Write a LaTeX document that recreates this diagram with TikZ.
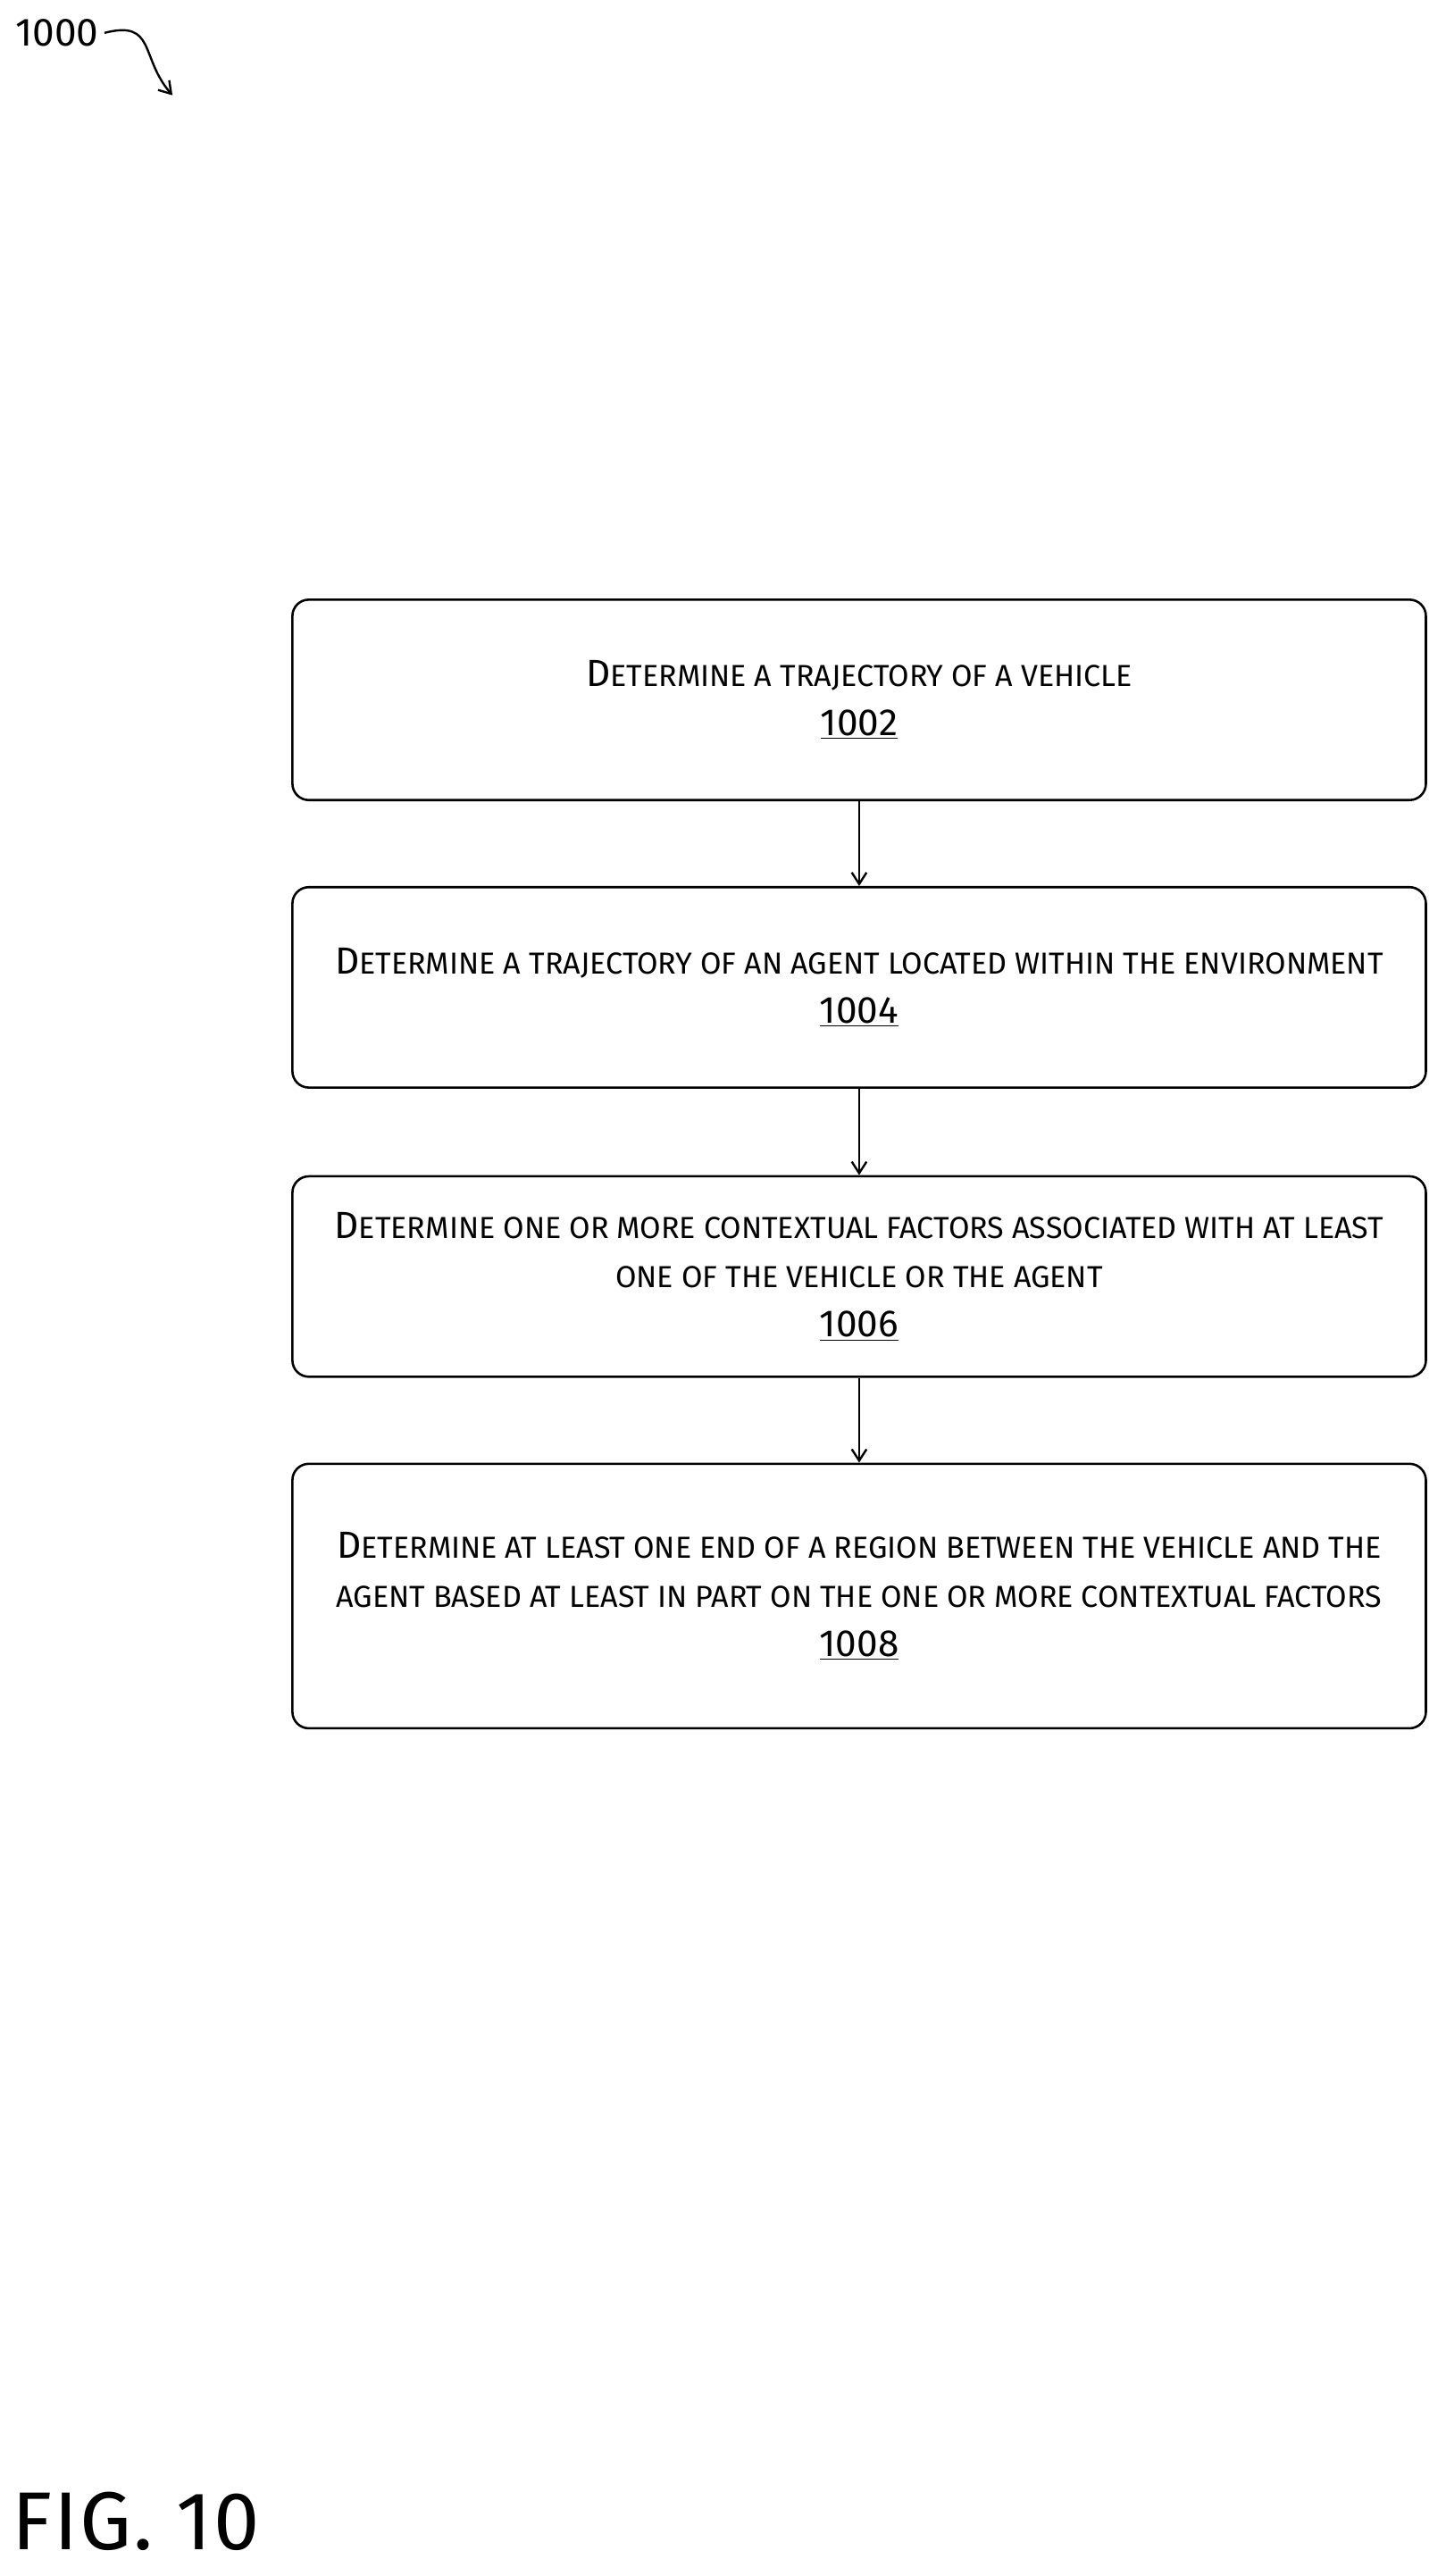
\documentclass[tikz,border=0pt]{standalone}
\usepackage{fontspec}
\setmainfont{Fira Sans}
\usepackage{tikz}
\usetikzlibrary{arrows.meta}
\newcommand\smc[2]{#1{\fontsize{18.5}{30}\selectfont #2}}
\tikzstyle{stepbox}=[draw,line width=1.4pt,rounded corners=10pt,minimum width=690pt,align=center,font=\fontsize{23}{30}\selectfont]
\tikzstyle{flow}=[line width=1.3pt,-{Straight Barb[length=7pt,width=9pt]}]
\begin{document}
\begin{tikzpicture}[x=1pt,y=-1pt]
	\useasboundingbox (0,0) rectangle (880,1568);
	\node[anchor=west,font=\fontsize{24}{24}\selectfont] (fig) at (6,20) {1000};
	\draw[flow] (fig.east) .. controls (95,12) and (85,35) .. (105,58);
	\node[stepbox,minimum height=122pt] (s1) at (523,426)
	  {\smc{D}{ETERMINE A TRAJECTORY OF A VEHICLE}\\\underline{1002}};
	\node[stepbox,minimum height=122pt] (s2) at (523,601)
	  {\smc{D}{ETERMINE A TRAJECTORY OF AN AGENT LOCATED WITHIN THE ENVIRONMENT}\\\underline{1004}};
	\node[stepbox,minimum height=122pt] (s3) at (523,777)
	  {\smc{D}{ETERMINE ONE OR MORE CONTEXTUAL FACTORS ASSOCIATED WITH AT LEAST}\\\smc{}{ONE OF THE VEHICLE OR THE AGENT}\\\underline{1006}};
	\node[stepbox,minimum height=161pt] (s4) at (523,971.5)
	  {\smc{D}{ETERMINE AT LEAST ONE END OF A REGION BETWEEN THE VEHICLE AND THE}\\\smc{}{AGENT BASED AT LEAST IN PART ON THE ONE OR MORE CONTEXTUAL FACTORS}\\\underline{1008}};
	\draw[flow] (s1) -- (s2);
	\draw[flow] (s2) -- (s3);
	\draw[flow] (s3) -- (s4);
	\node[anchor=south west,font=\fontsize{50}{50}\selectfont\addfontfeatures{LetterSpace=2}] (title) at (4,1556) {FIG. 10};
\end{tikzpicture}
\end{document}
